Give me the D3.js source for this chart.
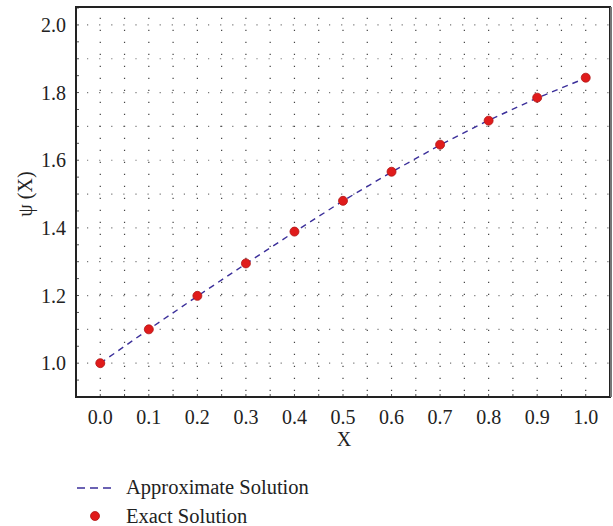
<!DOCTYPE html>
<html>
<head>
<meta charset="utf-8">
<script src="https://cdn.jsdelivr.net/npm/d3@7"></script>
<style>
  body { margin: 0; background: #fff; }
  text { font-family: 'Liberation Serif', 'DejaVu Serif', serif; fill: #222; }
</style>
</head>
<body>
<div id="chart"></div>
<script>
let xValues = [0.0, 0.1, 0.2, 0.3, 0.4, 0.5, 0.6, 0.7, 0.8, 0.9, 1.0]
let approxValues = [1.0, 1.1, 1.198, 1.294, 1.388, 1.48, 1.565, 1.645, 1.718, 1.784, 1.843]
let exactValues = [1.0, 1.1, 1.199, 1.295, 1.389, 1.48, 1.566, 1.646, 1.717, 1.785, 1.844]
let xTicks = [0.0, 0.1, 0.2, 0.3, 0.4, 0.5, 0.6, 0.7, 0.8, 0.9, 1.0]
let yTicks = [1.0, 1.2, 1.4, 1.6, 1.8, 2.0]
let legendLabels = ['Approximate Solution', 'Exact Solution']

let margin = { top: 7, left: 76, right: 3, bottom: 129 }
let width = 613 - margin.left - margin.right
let height = 526 - margin.top - margin.bottom

let svg = d3.select('#chart')
  .append('svg')
  .attr('width', 613)
  .attr('height', 526)

let g = svg.append('g')
  .attr('transform', 'translate(' + margin.left + ',' + margin.top + ')')

let xScale = d3.scaleLinear().domain([-0.05, 1.05]).range([0, width])
let yScale = d3.scaleLinear().domain([0.9, 2.053]).range([height, 0])

// dotted grid: vertical every 0.05, horizontal every 0.1
let vGrid = d3.range(0, 1.001, 0.05)
let hGrid = d3.range(1.0, 2.001, 0.1)

g.selectAll('.vgrid')
  .data(vGrid)
  .enter()
  .append('line')
  .attr('class', 'vgrid')
  .attr('x1', d => xScale(d))
  .attr('x2', d => xScale(d))
  .attr('y1', height)
  .attr('y2', 0)
  .attr('stroke', '#444')
  .attr('stroke-width', 1.2)
  .attr('stroke-dasharray', '1.2,10.8')
  .attr('stroke-dashoffset', -6)

g.selectAll('.hgrid')
  .data(hGrid)
  .enter()
  .append('line')
  .attr('class', 'hgrid')
  .attr('x1', 0)
  .attr('x2', width)
  .attr('y1', d => yScale(d))
  .attr('y2', d => yScale(d))
  .attr('stroke', '#777')
  .attr('stroke-width', 1.2)
  .attr('stroke-dasharray', '1.2,10.9')
  .attr('stroke-dashoffset', -11)

// small inward ticks
g.selectAll('.xtick')
  .data(vGrid)
  .enter()
  .append('line')
  .attr('x1', d => xScale(d))
  .attr('x2', d => xScale(d))
  .attr('y1', height)
  .attr('y2', height - 3)
  .attr('stroke', '#555')

g.selectAll('.ytick')
  .data(d3.range(0.95, 2.051, 0.05))
  .enter()
  .append('line')
  .attr('x1', 0)
  .attr('x2', 3)
  .attr('y1', d => yScale(d))
  .attr('y2', d => yScale(d))
  .attr('stroke', '#555')

// frame
g.append('rect')
  .attr('x', 0)
  .attr('y', 0)
  .attr('width', width)
  .attr('height', height)
  .attr('fill', 'none')
  .attr('stroke', '#222')
  .attr('stroke-width', 2)

g.append('line')
  .attr('x1', width + 1)
  .attr('x2', width + 1)
  .attr('y1', 0)
  .attr('y2', height)
  .attr('stroke', '#777')
  .attr('stroke-width', 2)

// tick labels
g.selectAll('.xlabel')
  .data(xTicks)
  .enter()
  .append('text')
  .attr('x', d => xScale(d))
  .attr('y', height + 27)
  .attr('text-anchor', 'middle')
  .attr('font-size', 20)
  .text(d => d.toFixed(1))

g.selectAll('.ylabel')
  .data(yTicks)
  .enter()
  .append('text')
  .attr('x', -10)
  .attr('y', d => yScale(d) + 7)
  .attr('text-anchor', 'end')
  .attr('font-size', 20)
  .text(d => d.toFixed(1))

g.append('text')
  .attr('x', width / 2 + 1)
  .attr('y', height + 49)
  .attr('text-anchor', 'middle')
  .attr('font-size', 20)
  .text('X')

g.append('text')
  .attr('transform', 'translate(-44,' + (yScale(1.5)) + ') rotate(-90)')
  .attr('text-anchor', 'middle')
  .attr('font-size', 20)
  .text('ψ (X)')

// approximate solution line
let line = d3.line()
  .x((d, i) => xScale(xValues[i]))
  .y(d => yScale(d))

g.append('path')
  .datum(approxValues)
  .attr('d', line)
  .attr('fill', 'none')
  .attr('stroke', '#3b2f9a')
  .attr('stroke-width', 1.4)
  .attr('stroke-dasharray', '6,5')

// exact solution points
g.selectAll('.pt')
  .data(exactValues)
  .enter()
  .append('circle')
  .attr('cx', (d, i) => xScale(xValues[i]))
  .attr('cy', d => yScale(d))
  .attr('r', 4.5)
  .attr('fill', '#e01b1b')
  .attr('stroke', '#b01515')
  .attr('stroke-width', 0.8)

// legend
let legend = svg.append('g')

legend.append('line')
  .attr('x1', 77)
  .attr('x2', 111)
  .attr('y1', 488)
  .attr('y2', 488)
  .attr('stroke', '#3b2f9a')
  .attr('stroke-width', 1.4)
  .attr('stroke-dasharray', '8,5')

legend.append('circle')
  .attr('cx', 95)
  .attr('cy', 516)
  .attr('r', 4.5)
  .attr('fill', '#e01b1b')
  .attr('stroke', '#b01515')
  .attr('stroke-width', 0.8)

legend.selectAll('.leg')
  .data(legendLabels)
  .enter()
  .append('text')
  .attr('x', 126)
  .attr('y', (d, i) => 494 + i * 29)
  .attr('font-size', 20.5)
  .text(d => d)
</script>
</body>
</html>
